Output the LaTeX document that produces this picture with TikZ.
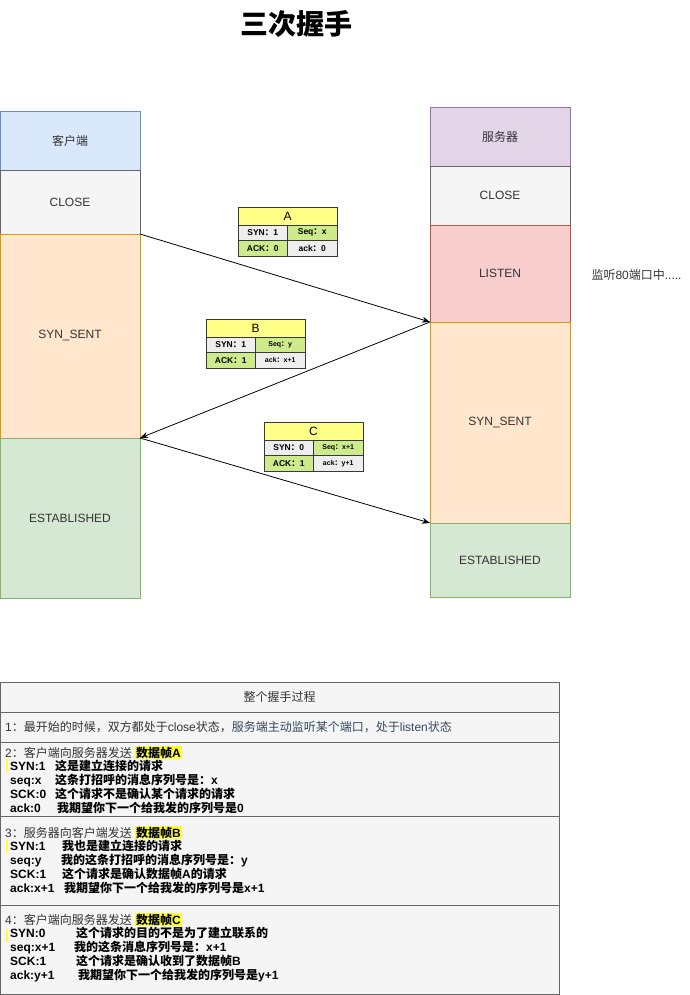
\documentclass[tikz,border=0pt]{standalone}
\usepackage{fontspec}
\setmainfont{Liberation Sans}
\newfontfamily\cjk{Noto Sans CJK SC}
\usetikzlibrary{arrows.meta,positioning}

\definecolor{blueF}{HTML}{DAE8FC}\definecolor{blueD}{HTML}{6C8EBF}
\definecolor{grayF}{HTML}{F5F5F5}\definecolor{grayD}{HTML}{666666}
\definecolor{orangeF}{HTML}{FFE6CC}\definecolor{orangeD}{HTML}{D79B00}
\definecolor{greenF}{HTML}{D5E8D4}\definecolor{greenD}{HTML}{82B366}
\definecolor{purpleF}{HTML}{E1D5E7}\definecolor{purpleD}{HTML}{9673A6}
\definecolor{redF}{HTML}{F8CECC}\definecolor{redD}{HTML}{B85450}
\definecolor{hdrF}{HTML}{FFFF88}\definecolor{cellD}{HTML}{36393D}
\definecolor{cellG}{HTML}{EEEEEE}\definecolor{cellV}{HTML}{CDEB8B}
\definecolor{hlY}{HTML}{FFFF33}\definecolor{txtG}{HTML}{333333}
\definecolor{txtB}{HTML}{34495E}

\newcommand{\zh}[1]{{\cjk #1}}
\newcommand{\hlt}[1]{{\setlength{\fboxsep}{1pt}\colorbox{hlY}{\bfseries #1}}}

\begin{document}
\begin{tikzpicture}[
    x=1pt, y=-1pt,
    font=\fontsize{12}{14}\selectfont,
    col/.style={draw, minimum width=140pt, inner sep=0pt, outer sep=0pt, text=txtG},
    hdr/.style={draw=cellD, fill=hdrF, minimum width=99pt, minimum height=18pt, inner sep=0pt, outer sep=0pt},
    cell/.style={draw=cellD, minimum width=49.5pt, minimum height=15.5pt, inner sep=0pt, outer sep=0pt, font=\fontsize{8.5}{9}\selectfont\bfseries},
    gcell/.style={cell, fill=cellG},
    vcell/.style={cell, fill=cellV},
    tiny/.style={font=\fontsize{7}{8}\selectfont\bfseries},
    rowbox/.style={draw=grayD, fill=grayF, minimum width=559pt, inner sep=0pt, outer sep=0pt, anchor=north west},
    para/.style={align=left, inner sep=0pt, anchor=base west, font=\fontsize{12}{13.8}\selectfont},
    flow/.style={-{Stealth[length=8pt,width=6pt]}, line width=0.8pt}
]
    \useasboundingbox (0,0) rectangle (689,995);

    \node[font=\fontsize{28}{28}\selectfont\bfseries] (title) at (296,24) {\zh{三次握手}};

    % client side
    \node[col, fill=blueF, draw=blueD, minimum height=59pt, anchor=north west] (client) at (0,111) {\zh{客户端}};
    \node[col, fill=grayF, draw=grayD, minimum height=64pt, below=0pt of client] (cclose) {CLOSE};
    \node[col, fill=orangeF, draw=orangeD, minimum height=204pt, below=0pt of cclose] (csyn) {SYN\_SENT};
    \node[col, fill=greenF, draw=greenD, minimum height=160pt, below=0pt of csyn] (cest) {ESTABLISHED};

    % server side
    \node[col, fill=purpleF, draw=purpleD, minimum height=59pt, anchor=north west] (server) at (430,107) {\zh{服务器}};
    \node[col, fill=grayF, draw=grayD, minimum height=59pt, below=0pt of server] (sclose) {CLOSE};
    \node[col, fill=redF, draw=redD, minimum height=97pt, below=0pt of sclose] (slisten) {LISTEN};
    \node[col, fill=orangeF, draw=orangeD, minimum height=201pt, below=0pt of slisten] (ssyn) {SYN\_SENT};
    \node[col, fill=greenF, draw=greenD, minimum height=74pt, below=0pt of ssyn] (sest) {ESTABLISHED};

    \node[anchor=west, text=txtG] (listennote) at (588,275) {\zh{监听}80\zh{端口中}.....};

    % frames
    \draw[flow] (cclose.south east) -- (ssyn.north west);
    \draw[flow] (ssyn.north west) -- (cest.north east);
    \draw[flow] (cest.north east) -- (sest.north west);

    % frame A
    \node[hdr] (fa) at (287.5,216) {A};
    \node[gcell, anchor=north east] (fa1) at (fa.south) {SYN\zh{：}1};
    \node[vcell, right=0pt of fa1] (fa2) {Seq\zh{：}x};
    \node[vcell, below=0pt of fa1] (fa3) {ACK\zh{：}0};
    \node[gcell, below=0pt of fa2] (fa4) {ack\zh{：}0};

    % frame B
    \node[hdr] (fb) at (255.5,328) {B};
    \node[gcell, anchor=north east] (fb1) at (fb.south) {SYN\zh{：}1};
    \node[vcell, tiny, right=0pt of fb1] (fb2) {Seq\zh{：}y};
    \node[vcell, below=0pt of fb1] (fb3) {ACK\zh{：}1};
    \node[gcell, tiny, below=0pt of fb2] (fb4) {ack\zh{：}x+1};

    % frame C
    \node[hdr] (fc) at (313.5,431) {C};
    \node[gcell, anchor=north east] (fc1) at (fc.south) {SYN\zh{：}0};
    \node[vcell, tiny, right=0pt of fc1] (fc2) {Seq\zh{：}x+1};
    \node[vcell, below=0pt of fc1] (fc3) {ACK\zh{：}1};
    \node[gcell, tiny, below=0pt of fc2] (fc4) {ack\zh{：}y+1};

    % summary table
    \node[rowbox, minimum height=30pt] (r0) at (0,682) {};
    \node[rowbox, minimum height=30pt, below=0pt of r0] (r1) {};
    \node[rowbox, minimum height=74pt, below=0pt of r1] (r2) {};
    \node[rowbox, minimum height=89pt, below=0pt of r2] (r3) {};
    \node[rowbox, minimum height=89pt, below=0pt of r3] (r4) {};

    \fill[hlY] (6,759) rectangle (8,772);
    \fill[hlY] (6,840) rectangle (8,853);
    \fill[hlY] (6,929) rectangle (8,942);

    \node[text=txtG] (t0) at (r0) {\zh{整个握手过程}};
    \node[anchor=west, inner sep=0pt, text=txtG] (t1) at ([xshift=5pt]r1.west)
        {1\zh{：最开始的时候，双方都处于}close\zh{状态，}\textcolor{txtB}{\zh{服务端主动监听某个端口，处于}listen\zh{状态}}};
    % base anchor sits on the last line
    \node[para] (t2) at (5,812.2) {%
        \textcolor{txtG}{2\zh{：客户端向服务器发送} }\hlt{\zh{数据帧}A}\\
        \bfseries\hspace*{5pt}\makebox[45pt][l]{SYN:1}\zh{这是建立连接的请求}\\
        \bfseries\hspace*{5pt}\makebox[45pt][l]{seq:x}\zh{这条打招呼的消息序列号是：}x\\
        \bfseries\hspace*{5pt}\makebox[45pt][l]{SCK:0}\zh{这个请求不是确认某个请求的请求}\\
        \bfseries\hspace*{5pt}\makebox[47pt][l]{ack:0}\zh{我期望你下一个给我发的序列号是}0};
    \node[para] (t3) at (5,892.2) {%
        \textcolor{txtG}{3\zh{：服务器向客户端发送} }\hlt{\zh{数据帧}B}\\
        \bfseries\hspace*{5pt}\makebox[52pt][l]{SYN:1}\zh{我也是建立连接的请求}\\
        \bfseries\hspace*{5pt}\makebox[51pt][l]{seq:y}\zh{我的这条打招呼的消息序列号是：}y\\
        \bfseries\hspace*{5pt}\makebox[52pt][l]{SCK:1}\zh{这个请求是确认数据帧}A\zh{的请求}\\
        \bfseries\hspace*{5pt}\makebox[54pt][l]{ack:x+1}\zh{我期望你下一个给我发的序列号是}x+1};
    \node[para] (t4) at (5,979.2) {%
        \textcolor{txtG}{4\zh{：客户端向服务器发送} }\hlt{\zh{数据帧}C}\\
        \bfseries\hspace*{5pt}\makebox[66pt][l]{SYN:0}\zh{这个请求的目的不是为了建立联系的}\\
        \bfseries\hspace*{5pt}\makebox[64pt][l]{seq:x+1}\zh{我的这条消息序列号是：}x+1\\
        \bfseries\hspace*{5pt}\makebox[66pt][l]{SCK:1}\zh{这个请求是确认收到了数据帧}B\\
        \bfseries\hspace*{5pt}\makebox[68pt][l]{ack:y+1}\zh{我期望你下一个给我发的序列号是}y+1};
\end{tikzpicture}
\end{document}
